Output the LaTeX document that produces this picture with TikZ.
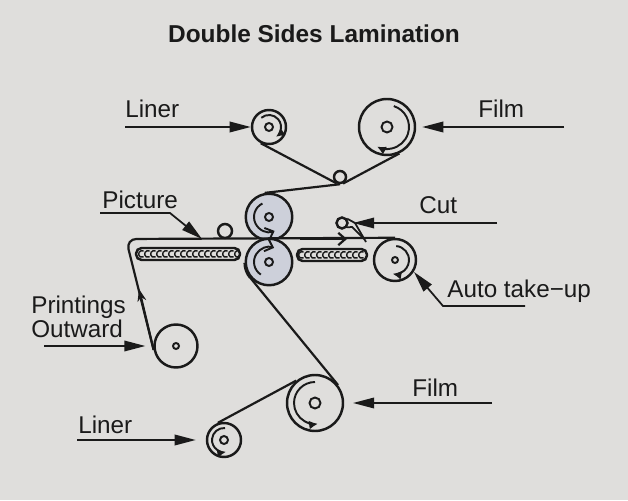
\documentclass[tikz,border=0pt]{standalone}
\usepackage{fontspec}
\setmainfont{Liberation Sans}
\usetikzlibrary{arrows.meta, positioning}
\definecolor{paper}{HTML}{DFDEDC}
\definecolor{nipfill}{HTML}{CDD0DA}
\definecolor{ink}{HTML}{1A1A1A}
\tikzset{
    roller/.style={circle, draw=ink, line width=1.4pt, inner sep=0pt, minimum size=#1},
    hub/.style={circle, draw=ink, line width=1.1pt, inner sep=0pt, minimum size=#1},
    web/.style={draw=ink, line width=1.25pt},
    leader/.style={draw=ink, line width=1pt, -{Triangle[length=12pt, width=6pt]}},
    turn/.style={draw=ink, line width=1.1pt, -{Latex[length=5pt, width=5pt]}},
    nipturn/.style={draw=ink, line width=1.1pt, -{Straight Barb[length=4pt, width=7.5pt]}},
    tag/.style={font=\fontsize{13.8pt}{13.6pt}\selectfont, text=ink, inner sep=0pt, align=left},
    heater/.style={draw=ink, line width=1.4pt, rounded corners=3.2pt, inner sep=0pt, minimum height=0.24cm}
}
\begin{document}
\begin{tikzpicture}[x=0.02cm, y=0.02cm]
    \fill[paper] (0,0) rectangle (628,500);
    \useasboundingbox (0,0) rectangle (628,500);
    \node[tag, font=\fontsize{13.9pt}{16pt}\selectfont\bfseries] (title) at (314,466) {Double Sides Lamination};

    % rollers
    \node[roller=0.68cm] (linerTop) at (269,373) {};
    \node[roller=1.12cm] (filmTop) at (387,373) {};
    \node[roller=0.24cm] (guide) at (340,323) {};
    \node[roller=0.93cm, fill=nipfill] (nipTop) at (269,283) {};
    \node[roller=0.93cm, fill=nipfill] (nipBot) at (269,238) {};
    \node[roller=0.28cm] (idler) at (225,269) {};
    \node[roller=0.84cm] (takeUp) at (395,240) {};
    \node[roller=0.22cm] (cutter) at (342,277) {};
    \node[roller=0.86cm] (printRoll) at (176,154) {};
    \node[roller=1.12cm] (filmBot) at (315,97) {};
    \node[roller=0.68cm] (linerBot) at (224,60) {};

    % hubs
    \node[hub=0.16cm] at (linerTop) {};
    \node[hub=0.22cm] at (filmTop) {};
    \node[hub=0.16cm] at (nipTop) {};
    \node[hub=0.16cm] at (nipBot) {};
    \node[hub=0.12cm] at (takeUp) {};
    \node[hub=0.12cm] at (printRoll) {};
    \node[hub=0.22cm] at (filmBot) {};
    \node[hub=0.16cm] at (linerBot) {};

    % turning arrows
    \draw[turn] (linerTop) ++(130:12) arc[start angle=130, end angle=-55, radius=12];
    \draw[turn] (filmTop) ++(72:22) arc[start angle=72, end angle=-117, radius=22];
    \draw[nipturn] (nipTop) ++(116:15) arc[start angle=116, end angle=292, radius=15];
    \draw[nipturn] (nipBot) ++(237:15) arc[start angle=237, end angle=70, radius=15];
    \draw[turn] (takeUp) ++(85:14) arc[start angle=85, end angle=-100, radius=14];
    \draw[turn] (filmBot) ++(90:21) arc[start angle=90, end angle=278, radius=21];
    \draw[turn] (linerBot) ++(85:12) arc[start angle=85, end angle=280, radius=12];

    % heaters
    \node[heater, minimum width=2.08cm] (heatL) at (188,246) {};
    \node[heater, minimum width=1.4cm] (heatR) at (332,245) {};
    \foreach \x in {0,...,16}
        \draw[ink, line width=0.8pt] (142+6*\x,246) ++(60:3.4) arc[start angle=60, end angle=300, radius=3.4];
    \foreach \x in {0,...,10}
        \draw[ink, line width=0.8pt] (302+6*\x,245) ++(60:3.4) arc[start angle=60, end angle=300, radius=3.4];

    % film and liner paths
    \coordinate (cornerL) at (126,261);
    \draw[web, rounded corners=6pt] (printRoll.190) -- (cornerL) -- (takeUp.90);
    \draw[web] (linerTop.243) -- (guide.243);
    \draw[web] (filmTop.295) -- (guide.295);
    \draw[web] (guide.270) -- (nipTop.100);
    \draw[web] (filmBot.38) -- (nipBot.220);
    \draw[web] (filmBot.130) -- (linerBot.110);
    \draw[web, line width=1.6pt] (nipBot.220) arc[start angle=220, end angle=180, radius=23.25];
    \coordinate (upTip) at (139,211);
    \draw[web, -{Stealth[length=7pt, width=5pt]}] (printRoll.190) -- (upTip);
    \coordinate (webFrom) at (300,261);
    \coordinate (webTip) at (347,261);
    \draw[web, -{Straight Barb[length=4pt, width=7pt]}] (webFrom) -- (webTip);

    % cut blade
    \coordinate (bladeA) at (355,277);
    \coordinate (bladeTip) at (366,258);
    \coordinate (bladeB) at (352,273);
    \coordinate (bladeC) at (364,261);
    \draw[web, line width=1pt] (cutter.40) -- (bladeA) -- (bladeTip);
    \draw[web, line width=1pt] (cutter.-40) -- (bladeB) -- (bladeC);

    % labels and leaders
    \node[tag, anchor=west] (linerTopTag) at (125,391) {Liner};
    \coordinate (linerTopEnd) at (125,373);
    \draw[leader] (linerTopEnd) -- (linerTop.west);
    \node[tag, anchor=west] (filmTopTag) at (478,391) {Film};
    \coordinate (filmTopEnd) at (564,373);
    \draw[leader, shorten >=3.4pt] (filmTopEnd) -- (filmTop.east);
    \node[tag, anchor=west] (pictureTag) at (102,300) {Picture};
    \coordinate (pictureEnd) at (100,287);
    \coordinate (pictureBend) at (170,287);
    \coordinate (pictureTip) at (202,261);
    \draw[leader] (pictureEnd) -- (pictureBend) -- (pictureTip);
    \node[tag, anchor=west] (cutTag) at (419,295) {Cut};
    \coordinate (cutEnd) at (497,277);
    \draw[leader, shorten >=2.5pt] (cutEnd) -- (cutter.east);
    \node[tag, anchor=west] (takeUpTag) at (447,209) {Auto take−up};
    \coordinate (takeUpEnd) at (525,194);
    \coordinate (takeUpBend) at (443,194);
    \coordinate (takeUpTip) at (414,228);
    \draw[leader] (takeUpEnd) -- (takeUpBend) -- (takeUpTip);
    \node[tag, anchor=west] (printTag) at (31,183) {Printings\\Outward};
    \coordinate (printEnd) at (44,154);
    \draw[leader, shorten >=4.5pt] (printEnd) -- (printRoll.west);
    \node[tag, anchor=west] (filmBotTag) at (412,112) {Film};
    \coordinate (filmBotEnd) at (492,97);
    \draw[leader, shorten >=5pt] (filmBotEnd) -- (filmBot.east);
    \node[tag, anchor=west] (linerBotTag) at (78,75) {Liner};
    \coordinate (linerBotEnd) at (77,60);
    \draw[leader, shorten >=5.7pt] (linerBotEnd) -- (linerBot.west);
\end{tikzpicture}
\end{document}
